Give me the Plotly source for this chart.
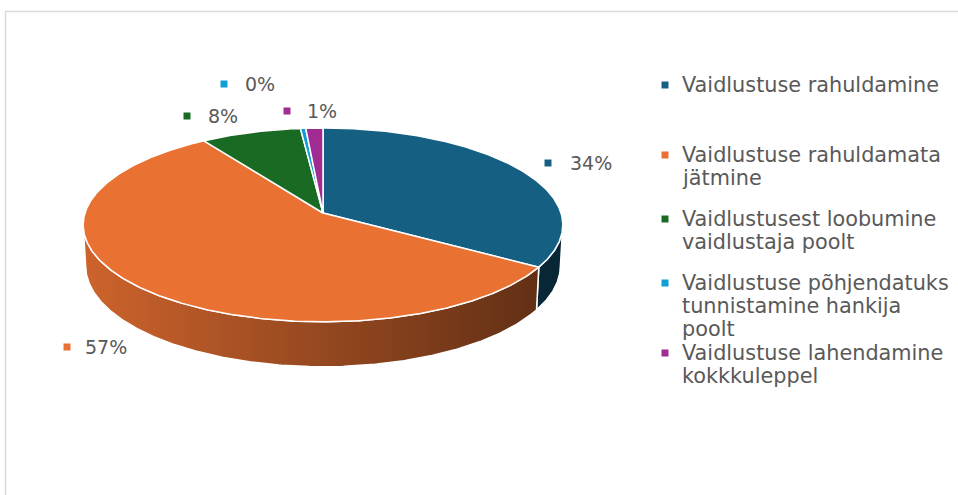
import math
import numpy as np
import plotly.graph_objects as go

# ---------------- data ----------------
categories = [
    "Vaidlustuse rahuldamine",
    "Vaidlustuse rahuldamata jätmine",
    "Vaidlustusest loobumine vaidlustaja poolt",
    "Vaidlustuse põhjendatuks tunnistamine hankija poolt",
    "Vaidlustuse lahendamine kokkkuleppel",
]
values = [33.9, 56.8, 7.6, 0.4, 1.3]
legend_lines = [
    ["Vaidlustuse rahuldamine"],
    ["Vaidlustuse rahuldamata", "jätmine"],
    ["Vaidlustusest loobumine", "vaidlustaja poolt"],
    ["Vaidlustuse põhjendatuks", "tunnistamine hankija", "poolt"],
    ["Vaidlustuse lahendamine", "kokkkuleppel"],
]
colors = ["#156082", "#E97132", "#196B24", "#0F9ED5", "#A02B93"]

# ---------------- layout constants (pixels) ----------------
W, H_PX = 958, 495
CX, CY, R = 323, 213, 238
SIN_E = 0.401
COS_E = math.sqrt(1 - SIN_E ** 2)
DIST = 7.46
THICK = 0.188
TEXT_COLOR = "#595959"
FONT = "DejaVu Sans"
FS_LABEL = 19
FS_LEG = 20.8

# data-label positions: (marker x, y, text x)
label_pos = [(548, 163, 568), (67, 347, 83), (187, 116, 206), (224, 84, 243), (287, 111, 305)]
# legend first-line y for each entry
legend_y = [85, 155, 219, 283, 353]
LEG_MX, LEG_TX, LINE_H = 665, 680, 23


def proj(x, y, z):
    v = z * COS_E + y * SIN_E
    w = y * COS_E - z * SIN_E
    f = DIST / (DIST + w)
    return CX + R * x * f, CY - R * v * f


def arc(a0, a1, z, n=None):
    if n is None:
        n = max(4, int(abs(a1 - a0) * 2))
    ts = np.radians(np.linspace(a0, a1, n))
    pts = [proj(math.sin(t), math.cos(t), z) for t in ts]
    return [p[0] for p in pts], [p[1] for p in pts]


def shade(hex_color, k):
    h = hex_color.lstrip("#")
    r, g, b = (int(h[i:i + 2], 16) for i in (0, 2, 4))
    return "rgb({},{},{})".format(int(r * k), int(g * k), int(b * k))


total = sum(values)
angles = [0.0]
for v in values:
    angles.append(angles[-1] + v / total * 360.0)

tmin = math.degrees(math.acos(-COS_E / DIST))
tmax = 360 - tmin

fig = go.Figure()

# side walls
for i, c in enumerate(colors):
    lo = max(angles[i], tmin)
    hi = min(angles[i + 1], tmax)
    if hi <= lo:
        continue
    tx, ty = arc(lo, hi, 0)
    bx, by = arc(hi, lo, -THICK)
    xs = tx + bx + [tx[0]]
    ys = ty + by + [ty[0]]
    fig.add_trace(go.Scatter(
        x=xs, y=ys, mode="lines", fill="toself",
        line=dict(color="white", width=1.5),
        fillcolor=shade(c, 0.65),
        fillgradient=dict(type="horizontal", start=CX - R, stop=CX + R,
                          colorscale=[[0, shade(c, 0.88)], [0.5, shade(c, 0.64)], [1, shade(c, 0.4)]]),
        hoverinfo="skip", showlegend=False,
    ))

# top faces
cx0, cy0 = proj(0, 0, 0)
for i, c in enumerate(colors):
    ax, ay = arc(angles[i], angles[i + 1], 0)
    fig.add_trace(go.Scatter(
        x=[cx0] + ax + [cx0], y=[cy0] + ay + [cy0],
        mode="lines", fill="toself", fillcolor=c,
        line=dict(color="white", width=1.5),
        name=categories[i], hoverinfo="name", showlegend=False,
    ))

shapes = []
annotations = []
# border
shapes.append(dict(type="line", x0=5.5, x1=5.5, y0=11, y1=H_PX, xref="x", yref="y",
                   line=dict(color="#D9D9D9", width=1.5), layer="below"))
shapes.append(dict(type="line", x0=5, x1=W, y0=11.5, y1=11.5, xref="x", yref="y",
                   line=dict(color="#D9D9D9", width=1.5), layer="below"))

# data labels
for i, v in enumerate(values):
    mx, my, tx = label_pos[i]
    shapes.append(dict(type="rect", x0=mx - 3.5, x1=mx + 3.5, y0=my - 3.5, y1=my + 3.5,
                       xref="x", yref="y", fillcolor=colors[i], line=dict(width=0)))
    annotations.append(dict(x=tx, y=my, xref="x", yref="y", xanchor="left", yanchor="middle",
                            text="{}%".format(round(v / total * 100)), showarrow=False,
                            font=dict(family=FONT, size=FS_LABEL, color=TEXT_COLOR)))

# legend
for i, lines in enumerate(legend_lines):
    y0 = legend_y[i]
    shapes.append(dict(type="rect", x0=LEG_MX - 3.5, x1=LEG_MX + 3.5, y0=y0 - 3.5, y1=y0 + 3.5,
                       xref="x", yref="y", fillcolor=colors[i], line=dict(width=0)))
    for j, ln in enumerate(lines):
        annotations.append(dict(x=LEG_TX, y=y0 + j * LINE_H, xref="x", yref="y",
                                xanchor="left", yanchor="middle", text=ln, showarrow=False,
                                font=dict(family=FONT, size=FS_LEG, color=TEXT_COLOR)))

fig.update_layout(
    width=W, height=H_PX,
    margin=dict(l=0, r=0, t=0, b=0, pad=0),
    paper_bgcolor="white", plot_bgcolor="white",
    xaxis=dict(range=[0, W], visible=False, fixedrange=True),
    yaxis=dict(range=[H_PX, 0], visible=False, fixedrange=True),
    shapes=shapes, annotations=annotations,
    showlegend=False,
)

fig.write_html("out.html", config={"displayModeBar": False},
               post_script="document.body.style.margin='0';document.body.style.overflow='hidden';")
